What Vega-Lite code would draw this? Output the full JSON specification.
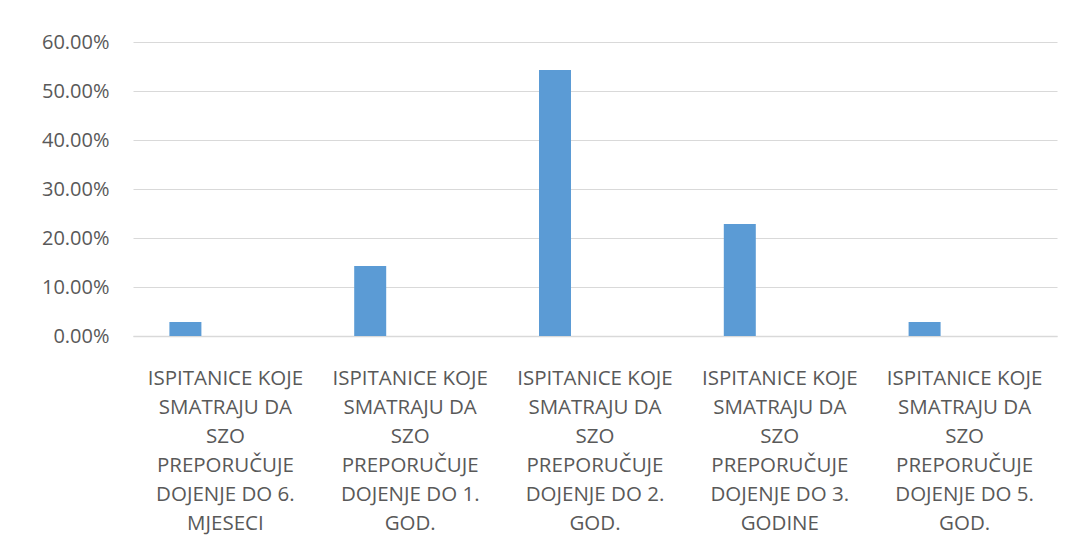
{
  "$schema": "https://vega.github.io/schema/vega-lite/v6.json",
  "autosize": "none",
  "width": 924,
  "height": 294,
  "padding": {"left": 133, "top": 42, "right": 16, "bottom": 221},
  "background": "white",
  "data": {
    "values": [
      {"kategorija": "ISPITANICE KOJE\nSMATRAJU DA\nSZO\nPREPORUČUJE\nDOJENJE DO 6.\nMJESECI", "postotak": 0.0286},
      {"kategorija": "ISPITANICE KOJE\nSMATRAJU DA\nSZO\nPREPORUČUJE\nDOJENJE DO 1.\nGOD.", "postotak": 0.1429},
      {"kategorija": "ISPITANICE KOJE\nSMATRAJU DA\nSZO\nPREPORUČUJE\nDOJENJE DO 2.\nGOD.", "postotak": 0.5429},
      {"kategorija": "ISPITANICE KOJE\nSMATRAJU DA\nSZO\nPREPORUČUJE\nDOJENJE DO 3.\nGODINE", "postotak": 0.2286},
      {"kategorija": "ISPITANICE KOJE\nSMATRAJU DA\nSZO\nPREPORUČUJE\nDOJENJE DO 5.\nGOD.", "postotak": 0.0286}
    ]
  },
  "mark": {"type": "bar", "color": "#5b9bd5", "width": 32, "xOffset": -40},
  "encoding": {
    "x": {
      "field": "kategorija",
      "type": "nominal",
      "sort": null,
      "scale": {"paddingInner": 0, "paddingOuter": 0},
      "axis": {
        "title": null,
        "labelAngle": 0,
        "labelExpr": "split(datum.label, '\\n')",
        "labelLimit": 0,
        "labelFont": "Open Sans",
        "labelFontSize": 20.5,
        "labelColor": "#595959",
        "labelLineHeight": 29,
        "labelPadding": 42,
        "labelBaseline": "middle",
        "labelOverlap": false,
        "ticks": false,
        "domainColor": "#d9d9d9",
        "domainWidth": 1.5
      }
    },
    "y": {
      "field": "postotak",
      "type": "quantitative",
      "scale": {"domain": [0, 0.6], "nice": false},
      "axis": {
        "title": null,
        "format": ".2%",
        "values": [0, 0.1, 0.2, 0.3, 0.4, 0.5, 0.6],
        "labelOverlap": false,
        "labelFont": "Open Sans",
        "labelFontSize": 20,
        "labelColor": "#595959",
        "labelPadding": 24,
        "ticks": false,
        "domain": false,
        "gridColor": "#d9d9d9",
        "gridWidth": 1.2
      }
    }
  },
  "config": {"view": {"stroke": null}}
}
